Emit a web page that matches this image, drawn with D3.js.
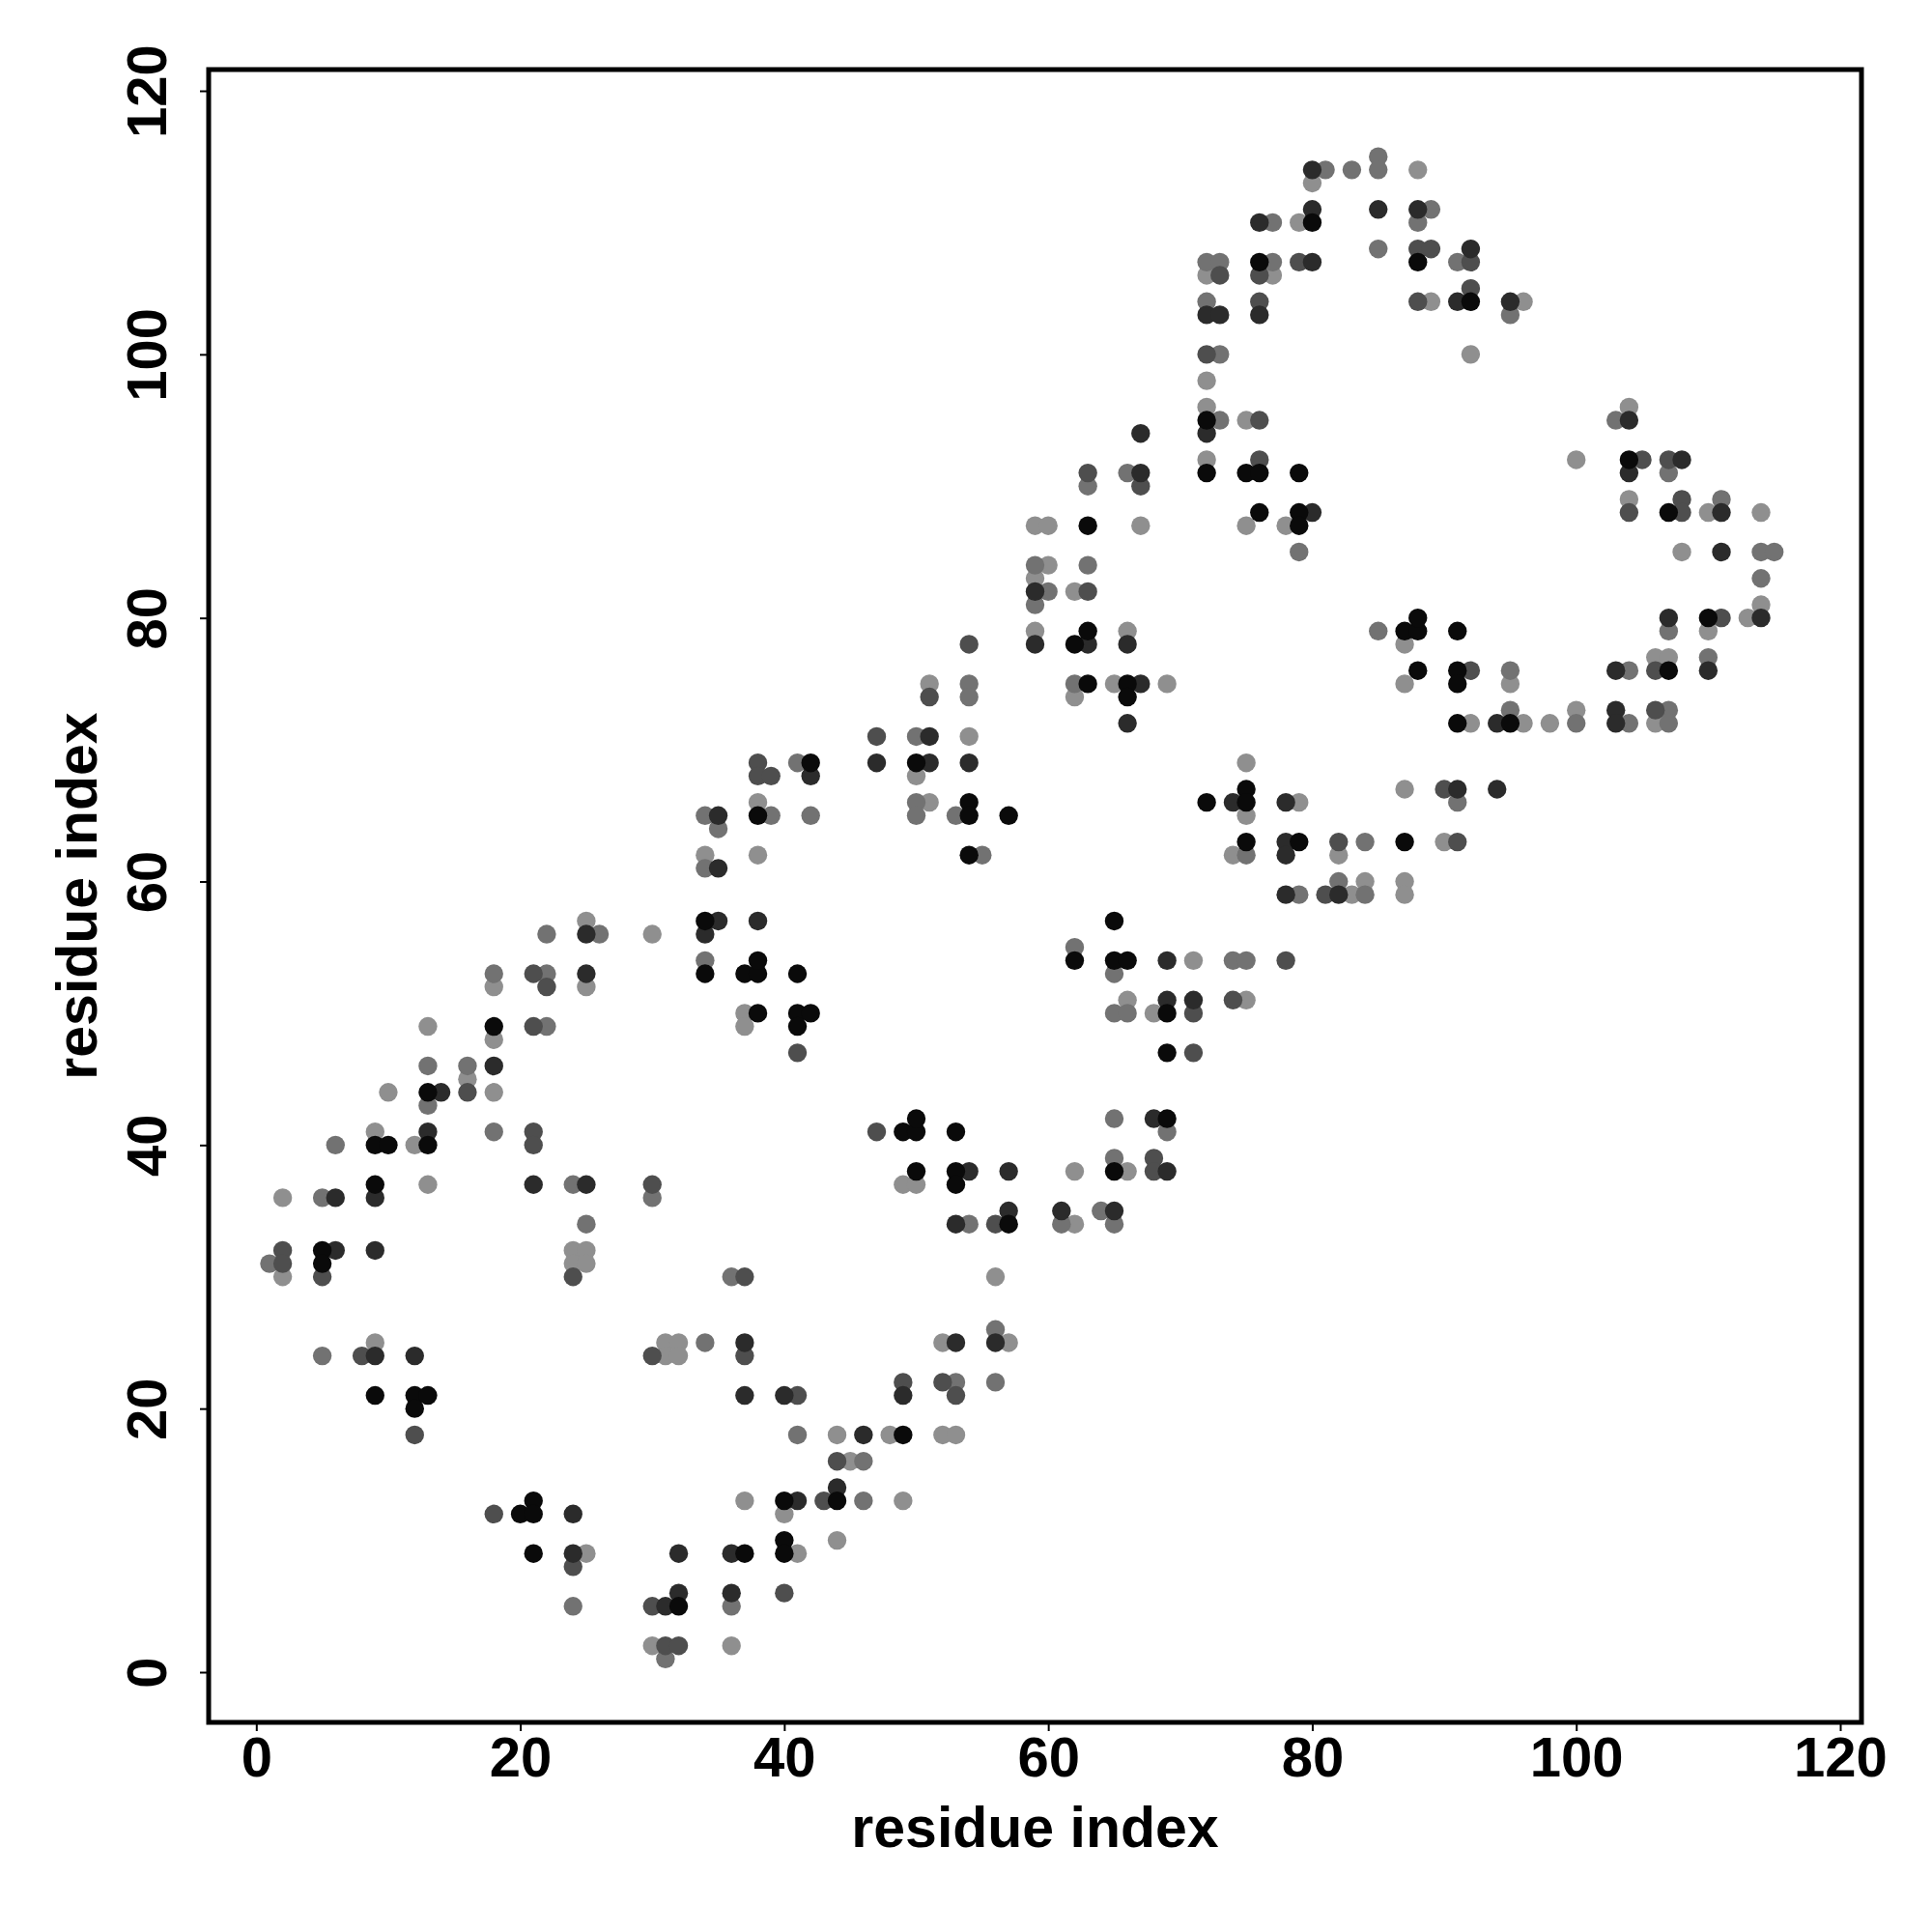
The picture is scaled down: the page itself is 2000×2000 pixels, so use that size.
<!DOCTYPE html>
<html>
<head>
<meta charset="utf-8">
<script src="https://cdn.jsdelivr.net/npm/d3@7"></script>
<style>
  body { margin: 0; background: #fff; }
  text { font-family: "Liberation Sans", Arial, sans-serif; font-weight: bold; }
</style>
</head>
<body>
<svg id="chart" width="2000" height="2000"></svg>
<script>
// contact pairs (residue i, residue j), grouped by grey level: black -> light grey
const blackContacts = [
  [9,21],[12,21],[13,21],[12,20],[21,13],[20,12],[21,12],[21,9],
  [18,49],[13,44],[9,40],[10,40],[13,40],[9,37],[5,32],[5,31],
  [49,18],[40,13],[44,13],[37,9],[40,10],[40,9],[32,5],
  [34,57],[34,53],[37,53],[38,53],[38,54],[41,53],[38,50],[41,50],[42,50],[41,49],
  [49,41],[50,41],[50,42],[53,41],[50,38],[53,38],[53,37],[57,34],
  [50,69],[42,69],[54,66],[54,65],[57,65],[38,65],[54,62],
  [65,57],[62,54],[65,54],[66,54],[69,50],[69,47],[69,42],[65,38],
  [72,91],[75,91],[76,91],[79,91],[76,88],[79,88],[79,87],[63,87],[63,79],[62,78],[63,75],[66,75],[66,74],
  [87,79],[88,79],[88,80],[91,79],[88,76],[91,76],[91,75],[91,72],
  [75,67],[72,66],[75,66],[75,63],[79,63],[87,63],
  [80,110],[88,107],[76,107],[72,95],
  [107,88],[110,80],[107,76],[95,72],[92,104],[104,92]
];
const darkContacts = [
  [9,24],[12,24],[24,12],[24,9],
  [25,56],[25,53],[18,46],[14,44],[13,41],[21,37],[25,37],[9,36],[6,36],[6,32],[9,32],
  [37,25],[53,25],[56,25],[37,21],[40,21],[49,21],[46,18],[44,14],[41,13],[32,9],[36,9],[32,6],[31,5],[36,6],
  [35,57],[34,56],[38,57],[54,38],[57,38],[53,34],[57,35],
  [59,82],[59,78],[51,71],[47,69],[51,69],[54,69],[42,68],[35,65],[35,61],
  [78,59],[82,59],[69,54],[69,51],[71,51],[68,42],[69,38],[61,35],[65,35],
  [67,91],[80,88],[63,78],[66,78],[67,75],[66,72],[74,66],[78,66],[91,67],[78,63],[78,62],
  [80,114],[80,111],[76,110],[85,111],[88,111],[80,107],[72,103],[73,103],[76,103],[91,104],[72,94],[67,94],
  [104,91],[111,88],[111,85],[114,80],[107,80],[103,76],[110,76],[94,72],[103,73],[103,72],[94,67],
  [92,108],[95,104],[104,95],[108,92]
];
const midDarkContacts = [
  [5,30],[24,30],[8,24],[12,18],[18,12],[24,8],
  [21,53],[22,52],[21,49],[16,44],[21,41],[21,40],[30,37],[2,32],[2,31],
  [37,30],[30,24],[37,24],[41,21],[49,22],[52,22],[53,21],[44,16],[43,13],[30,5],[40,6],[31,2],[32,2],
  [41,47],[47,41],[56,34],
  [54,78],[51,74],[47,71],[38,69],[38,68],[39,68],
  [81,59],[78,54],[71,50],[74,51],[68,39],[68,38],[71,47],
  [63,91],[67,90],[63,82],[90,67],[82,63],[91,63],
  [88,108],[89,108],[73,106],[79,107],[76,106],[76,104],[88,104],[72,100],[76,95],[76,92],
  [104,88],[108,89],[108,88],[111,80],[92,76],[106,76],[106,73],
  [92,107],[92,105],[105,92],[107,92]
];
const greyContacts = [
  [5,24],[24,5],
  [22,56],[26,56],[18,53],[22,53],[22,49],[13,46],[16,46],[13,43],[18,41],[6,40],[24,37],[30,36],[5,36],[25,34],[1,31],
  [36,30],[34,25],[56,26],[53,22],[56,22],[41,18],[46,16],[46,13],[36,5],[31,1],
  [34,54],[54,34],
  [59,84],[60,82],[59,81],[54,75],[54,74],[50,71],[41,69],[50,66],[50,65],[53,65],[39,65],[42,65],[34,65],[35,64],[55,62],[34,61],
  [79,59],[82,60],[84,59],[62,55],[65,53],[74,54],[75,54],[65,50],[66,50],[65,42],[69,41],[65,39],[61,34],[64,35],[65,34],
  [63,90],[66,91],[79,85],[63,84],[62,75],[91,66],[75,62],[84,63],[85,79],
  [85,115],[85,114],[81,114],[83,114],[77,110],[89,111],[88,110],[85,108],[91,107],[72,107],[73,107],[77,107],[72,104],[73,100],[73,95],
  [107,91],[111,89],[114,85],[115,85],[114,83],[107,79],[95,76],[110,77],[95,73],[100,72],[104,72],[107,73],[107,72],[104,76],
  [95,103],[103,95]
];
const lightContacts = [
  [2,30],[9,25],[25,9],
  [25,57],[30,56],[25,52],[18,52],[13,49],[18,48],[16,45],[18,44],[10,44],[9,41],[12,40],[13,37],[2,36],[24,32],[25,32],[24,31],[25,31],
  [56,30],[31,25],[32,25],[31,24],[32,24],[52,25],[57,25],[44,18],[48,18],[52,18],[53,18],[45,16],[37,13],[49,13],[40,12],[44,10],[41,9],[30,2],[36,2],
  [37,50],[37,49],[49,37],[50,37],
  [59,87],[60,87],[60,84],[59,83],[59,79],[51,75],[54,71],[50,68],[51,66],[38,66],[34,62],[38,62],
  [83,59],[84,60],[87,60],[87,59],[71,54],[66,51],[68,50],[75,51],[66,38],[62,38],[62,34],
  [75,87],[78,87],[67,87],[62,82],[66,79],[62,74],[65,75],[69,75],[87,78],[87,75],[75,69],[75,65],[79,66],[87,67],[74,62],[82,62],[90,63],
  [80,113],[88,114],[79,110],[72,106],[77,106],[89,104],[72,98],[72,96],[75,95],[72,92],
  [104,89],[110,88],[114,88],[108,85],[114,81],[113,80],[110,79],[95,75],[106,77],[107,77],[92,72],[96,72],[98,72],[100,73],[106,72],
  [96,104],[92,100],[104,96],[100,92]
];
const shadeColours = ["#0a0a0a", "#2b2b2b", "#4e4e4e", "#727272", "#8f8f8f"];
const axisTicks = [0, 20, 40, 60, 80, 100, 120];
const axisTitle = "residue index";

const svg = d3.select("#chart");
const frame = {left: 216, right: 1927, top: 72, bottom: 1783};

const x = d3.scaleLinear().domain([0, 120]).range([265.3, 1905]);
const y = d3.scaleLinear().domain([0, 120]).range([1731, 94]);

svg.append("rect").attr("width", 2000).attr("height", 2000).attr("fill", "#fff");

// light shades first so darker points sit on top
const layers = [lightContacts, greyContacts, midDarkContacts, darkContacts, blackContacts];
layers.forEach((pts, k) => {
    svg.append("g")
        .selectAll("circle")
        .data(pts)
        .enter().append("circle")
        .attr("cx", d => x(d[0]))
        .attr("cy", d => y(d[1]))
        .attr("r", 9.7)
        .style("fill", shadeColours[4 - k]);
});

// x axis
const gx = svg.append("g")
    .attr("transform", "translate(0," + frame.bottom + ")")
    .call(d3.axisBottom(x).tickValues(axisTicks).tickSize(9).tickSizeOuter(0).tickFormat(d3.format("d")));
gx.select(".domain").remove();
gx.selectAll(".tick line").attr("stroke", "#000").attr("stroke-width", 2);
gx.selectAll(".tick text")
    .attr("y", 56).attr("dy", 0)
    .style("font-size", "58px").style("fill", "#000");

// y axis, labels parallel to axis
const gy = svg.append("g")
    .attr("transform", "translate(" + frame.left + ",0)")
    .call(d3.axisLeft(y).tickValues(axisTicks).tickSize(9).tickSizeOuter(0).tickFormat(d3.format("d")));
gy.select(".domain").remove();
gy.selectAll(".tick line").attr("stroke", "#000").attr("stroke-width", 2);
gy.selectAll(".tick text")
    .attr("x", 0).attr("y", -44).attr("dy", 0)
    .attr("transform", "rotate(-90)")
    .style("text-anchor", "middle")
    .style("font-size", "58px").style("fill", "#000");

// box
svg.append("rect")
    .attr("x", frame.left).attr("y", frame.top)
    .attr("width", frame.right - frame.left)
    .attr("height", frame.bottom - frame.top)
    .style("fill", "none").style("stroke", "#000").style("stroke-width", 5);

// axis titles
svg.append("text")
    .attr("x", (frame.left + frame.right) / 2).attr("y", 1912)
    .style("text-anchor", "middle").style("font-size", "59px")
    .text(axisTitle);

svg.append("text")
    .attr("transform", "translate(100," + (frame.top + frame.bottom) / 2 + ") rotate(-90)")
    .style("text-anchor", "middle").style("font-size", "59px")
    .text(axisTitle);
</script>
</body>
</html>
